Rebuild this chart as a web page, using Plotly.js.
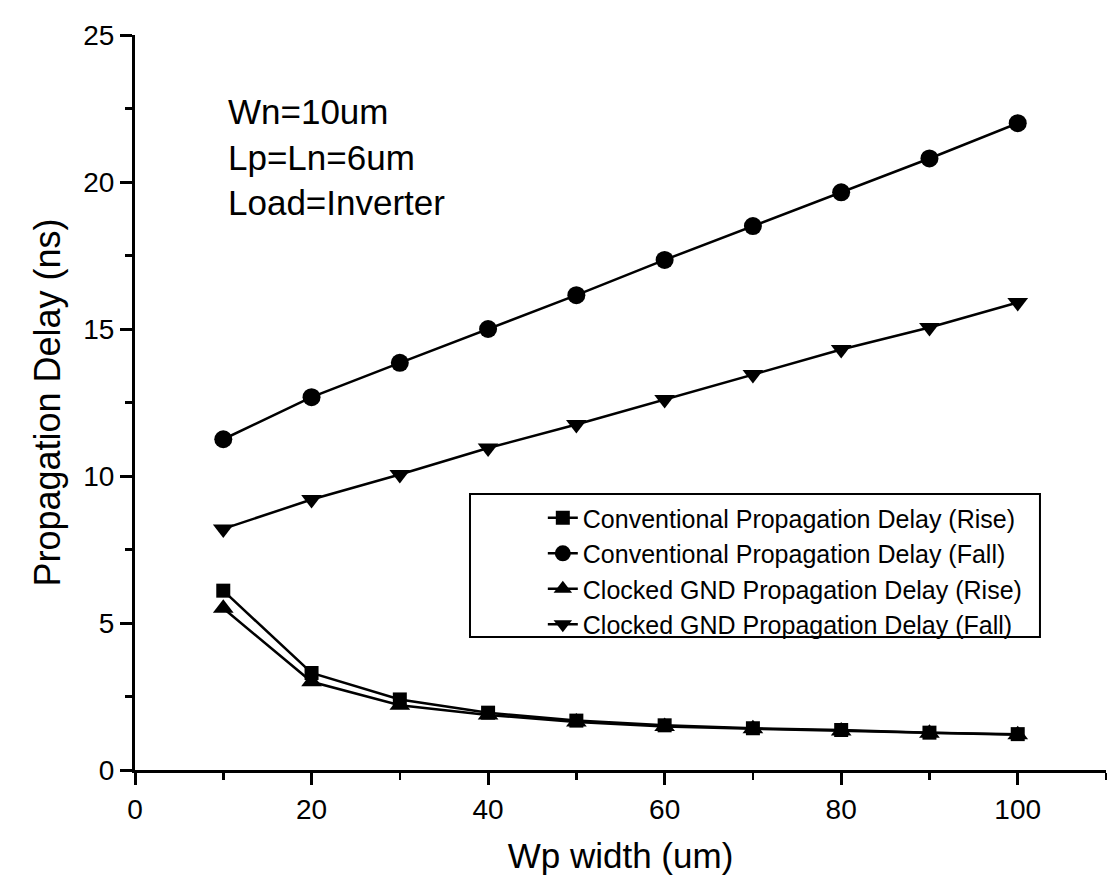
<!DOCTYPE html>
<html>
<head>
<meta charset="utf-8">
<script src="https://cdn.plot.ly/plotly-3.0.1.min.js"></script>
<style>html,body{margin:0;padding:0;background:#fff;}#chart{width:1107px;height:882px;}</style>
</head>
<body>
<div id="chart"></div>
<script>
const wpWidth = [10, 20, 30, 40, 50, 60, 70, 80, 90, 100];
const convRise = [6.1, 3.3, 2.4, 1.95, 1.68, 1.52, 1.42, 1.36, 1.27, 1.22];
const convFall = [11.25, 12.68, 13.85, 15.0, 16.15, 17.35, 18.5, 19.65, 20.8, 22.0];
const cgndRise = [5.5, 3.0, 2.2, 1.87, 1.63, 1.48, 1.4, 1.33, 1.25, 1.2];
const cgndFall = [8.2, 9.2, 10.05, 10.95, 11.75, 12.6, 13.45, 14.3, 15.05, 15.9];
const seriesNames = [
  'Conventional Propagation Delay (Rise)',
  'Conventional Propagation Delay (Fall)',
  'Clocked GND Propagation Delay (Rise)',
  'Clocked GND Propagation Delay (Fall)'
];
const noteText = 'Wn=10um<br>Lp=Ln=6um<br>Load=Inverter';

const FONT = 'Liberation Sans, Arial, sans-serif';
function mk(y, name, symbol, size) {
  return {
    x: wpWidth, y: y, name: name, type: 'scatter', mode: 'lines+markers',
    line: {color: '#000', width: 2.5},
    marker: {symbol: symbol, size: size, color: '#000'}
  };
}
const data = [
  mk(convRise, seriesNames[0], 'square', 14),
  mk(convFall, seriesNames[1], 'circle', 18),
  mk(cgndRise, seriesNames[2], 'triangle-up', 18),
  mk(cgndFall, seriesNames[3], 'triangle-down', 18)
];
const layout = {
  width: 1107, height: 882,
  margin: {l: 135, r: 1, t: 35, b: 112},
  paper_bgcolor: '#fff', plot_bgcolor: '#fff',
  font: {family: FONT, color: '#000'},
  showlegend: true,
  xaxis: {
    range: [0, 110], tick0: 0, dtick: 20, showgrid: false, zeroline: false,
    showline: true, linecolor: '#000', linewidth: 3,
    ticks: 'outside', ticklen: 12, tickwidth: 3, tickcolor: '#000',
    tickfont: {size: 28, family: FONT},
    minor: {dtick: 10, ticks: 'outside', ticklen: 7, tickwidth: 2.5, tickcolor: '#000', showgrid: false},
    title: {text: 'Wp width (um)', font: {size: 35, family: FONT}, standoff: 20},
    automargin: false
  },
  yaxis: {
    range: [0, 25], tick0: 0, dtick: 5, showgrid: false, zeroline: false,
    showline: true, linecolor: '#000', linewidth: 3,
    ticks: 'outside', ticklen: 12, tickwidth: 3, tickcolor: '#000',
    tickfont: {size: 28, family: FONT},
    minor: {dtick: 2.5, ticks: 'outside', ticklen: 7, tickwidth: 2.5, tickcolor: '#000', showgrid: false},
    title: {text: 'Propagation Delay (ns)', font: {size: 36, family: FONT}, standoff: 12},
    automargin: false
  },
  legend: {
    x: 0.42, y: 0.374, xanchor: 'left', yanchor: 'top',
    bgcolor: 'rgba(0,0,0,0)', borderwidth: 0,
    font: {size: 25, family: FONT, color: '#000'}
  },
  shapes: [{
    type: 'rect', xref: 'paper', yref: 'paper',
    x0: 0.345, x1: 0.932, y0: 0.181, y1: 0.3755,
    line: {color: '#000', width: 2}, fillcolor: 'rgba(0,0,0,0)'
  }],
  annotations: [{
    xref: 'paper', yref: 'paper', x: 0.094, y: 0.834,
    xanchor: 'left', yanchor: 'middle', align: 'left', showarrow: false,
    text: noteText, font: {size: 35, family: FONT, color: '#000'}
  }]
};
Plotly.newPlot('chart', data, layout, {displayModeBar: false, staticPlot: true});
</script>
</body>
</html>
